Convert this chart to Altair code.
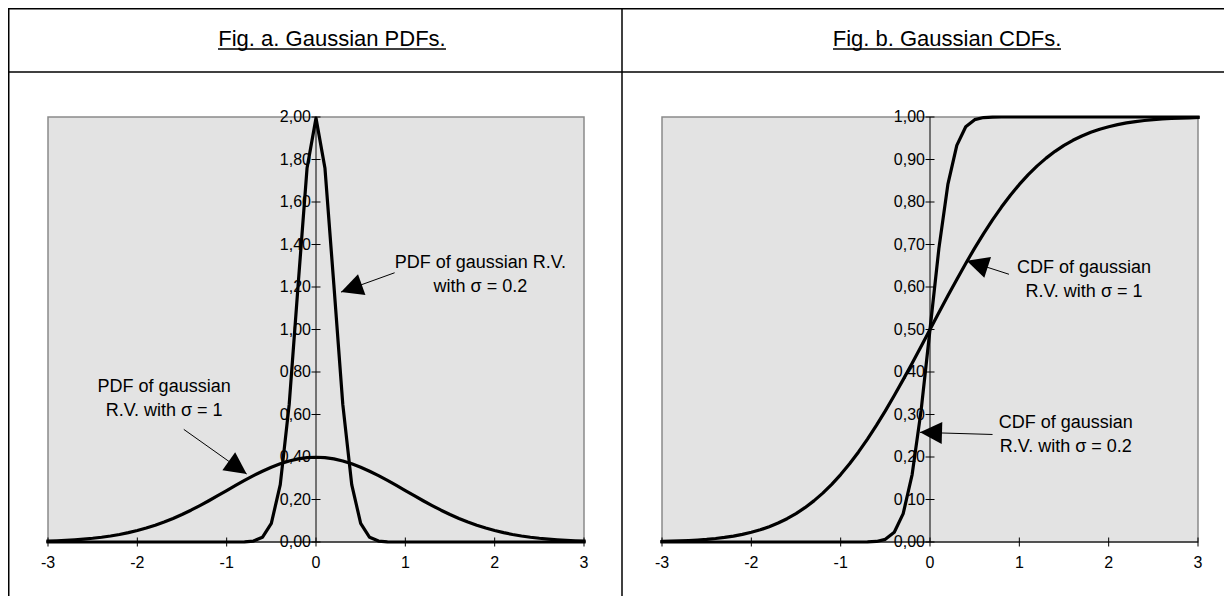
import altair as alt
import pandas as pd

FONT = "Liberation Sans"

# ---------------- data ----------------
X = [-3.0, -2.9, -2.8, -2.7, -2.6, -2.5, -2.4, -2.3, -2.2, -2.1,
     -2.0, -1.9, -1.8, -1.7, -1.6, -1.5, -1.4, -1.3, -1.2, -1.1,
     -1.0, -0.9, -0.8, -0.7, -0.6, -0.5, -0.4, -0.3, -0.2, -0.1,
     0.0, 0.1, 0.2, 0.3, 0.4, 0.5, 0.6, 0.7, 0.8, 0.9,
     1.0, 1.1, 1.2, 1.3, 1.4, 1.5, 1.6, 1.7, 1.8, 1.9,
     2.0, 2.1, 2.2, 2.3, 2.4, 2.5, 2.6, 2.7, 2.8, 2.9, 3.0]

PDF_SIGMA_1 = [0.0044, 0.0060, 0.0079, 0.0104, 0.0136, 0.0175, 0.0224, 0.0283, 0.0355, 0.0440,
               0.0540, 0.0656, 0.0790, 0.0940, 0.1109, 0.1295, 0.1497, 0.1714, 0.1942, 0.2179,
               0.2420, 0.2661, 0.2897, 0.3123, 0.3332, 0.3521, 0.3683, 0.3814, 0.3910, 0.3970,
               0.3989, 0.3970, 0.3910, 0.3814, 0.3683, 0.3521, 0.3332, 0.3123, 0.2897, 0.2661,
               0.2420, 0.2179, 0.1942, 0.1714, 0.1497, 0.1295, 0.1109, 0.0940, 0.0790, 0.0656,
               0.0540, 0.0440, 0.0355, 0.0283, 0.0224, 0.0175, 0.0136, 0.0104, 0.0079, 0.0060, 0.0044]

PDF_SIGMA_02 = [0.0, 0.0, 0.0, 0.0, 0.0, 0.0, 0.0, 0.0, 0.0, 0.0,
                0.0, 0.0, 0.0, 0.0, 0.0, 0.0, 0.0, 0.0, 0.0, 0.0,
                0.0, 0.0001, 0.0007, 0.0044, 0.0222, 0.0876, 0.2700, 0.6476, 1.2098, 1.7603,
                1.9947, 1.7603, 1.2098, 0.6476, 0.2700, 0.0876, 0.0222, 0.0044, 0.0007, 0.0001,
                0.0, 0.0, 0.0, 0.0, 0.0, 0.0, 0.0, 0.0, 0.0, 0.0,
                0.0, 0.0, 0.0, 0.0, 0.0, 0.0, 0.0, 0.0, 0.0, 0.0, 0.0]

CDF_SIGMA_1 = [0.0013, 0.0019, 0.0026, 0.0035, 0.0047, 0.0062, 0.0082, 0.0107, 0.0139, 0.0179,
               0.0228, 0.0287, 0.0359, 0.0446, 0.0548, 0.0668, 0.0808, 0.0968, 0.1151, 0.1357,
               0.1587, 0.1841, 0.2119, 0.2420, 0.2743, 0.3085, 0.3446, 0.3821, 0.4207, 0.4602,
               0.5000, 0.5398, 0.5793, 0.6179, 0.6554, 0.6915, 0.7257, 0.7580, 0.7881, 0.8159,
               0.8413, 0.8643, 0.8849, 0.9032, 0.9192, 0.9332, 0.9452, 0.9554, 0.9641, 0.9713,
               0.9772, 0.9821, 0.9861, 0.9893, 0.9918, 0.9938, 0.9953, 0.9965, 0.9974, 0.9981, 0.9987]

CDF_SIGMA_02 = [0.0, 0.0, 0.0, 0.0, 0.0, 0.0, 0.0, 0.0, 0.0, 0.0,
                0.0, 0.0, 0.0, 0.0, 0.0, 0.0, 0.0, 0.0, 0.0, 0.0,
                0.0, 0.0, 0.0, 0.0002, 0.0013, 0.0062, 0.0228, 0.0668, 0.1587, 0.3085,
                0.5000, 0.6915, 0.8413, 0.9332, 0.9772, 0.9938, 0.9987, 0.9998, 1.0, 1.0,
                1.0, 1.0, 1.0, 1.0, 1.0, 1.0, 1.0, 1.0, 1.0, 1.0,
                1.0, 1.0, 1.0, 1.0, 1.0, 1.0, 1.0, 1.0, 1.0, 1.0, 1.0]

X_TICKS = [-3, -2, -1, 0, 1, 2, 3]
X_TICK_LABELS = ["-3", "-2", "-1", "0", "1", "2", "3"]

PDF_Y_TICKS = [0.0, 0.2, 0.4, 0.6, 0.8, 1.0, 1.2, 1.4, 1.6, 1.8, 2.0]
PDF_Y_LABELS = ["0,00", "0,20", "0,40", "0,60", "0,80", "1,00", "1,20", "1,40", "1,60", "1,80", "2,00"]

CDF_Y_TICKS = [0.0, 0.1, 0.2, 0.3, 0.4, 0.5, 0.6, 0.7, 0.8, 0.9, 1.0]
CDF_Y_LABELS = ["0,00", "0,10", "0,20", "0,30", "0,40", "0,50", "0,60", "0,70", "0,80", "0,90", "1,00"]

# annotations (data coordinates)
PDF_NOTE_TEXT = ["PDF of gaussian R.V.", "with σ = 0.2", "PDF of gaussian", "R.V. with σ = 1"]
PDF_NOTE_X = [1.84, 1.84, -1.70, -1.70]
PDF_NOTE_Y = [1.314, 1.201, 0.731, 0.618]
PDF_ARROW_FROM_X = [0.88, -1.48]
PDF_ARROW_FROM_Y = [1.267, 0.530]
PDF_ARROW_TO_X = [0.28, -0.776]
PDF_ARROW_TO_Y = [1.176, 0.32]
PDF_ARROW_ANGLE = [250.3, 125.5]

CDF_NOTE_TEXT = ["CDF of gaussian", "R.V. with σ = 1", "CDF of gaussian", "R.V. with σ = 0.2"]
CDF_NOTE_X = [1.724, 1.724, 1.52, 1.52]
CDF_NOTE_Y = [0.644, 0.5875, 0.279, 0.224]
CDF_ARROW_FROM_X = [0.884, 0.70]
CDF_ARROW_FROM_Y = [0.630, 0.253]
CDF_ARROW_TO_X = [0.411, -0.112]
CDF_ARROW_TO_Y = [0.662, 0.258]
CDF_ARROW_ANGLE = [287.8, 271.6]

HEAD = "M0,0L1,2L-1,2Z"


def panel(y1, y2, ymax, yticks, ylabels, xrange, yrange,
          note_text, note_x, note_y, fx, fy, tx, ty, angles):
    xs = alt.Scale(domain=[-3, 3], range=xrange, nice=False, zero=False)
    ys = alt.Scale(domain=[0, ymax], range=yrange, nice=False, zero=False)

    def X_(f):
        return alt.X(f, type="quantitative", scale=xs, axis=None)

    def Y_(f):
        return alt.Y(f, type="quantitative", scale=ys, axis=None)

    bg_df = pd.DataFrame({"x0": [X_TICKS[0]], "x1": [X_TICKS[-1]], "y0": [0.0], "y1": [ymax]})
    bg = alt.Chart(bg_df).mark_rect(fill="#e3e3e3", stroke="#8a8a8a", strokeWidth=1.5).encode(
        x=X_("x0"), x2="x1", y=Y_("y0"), y2="y1")
    xaxis = alt.Chart(bg_df).mark_rule(color="black", strokeWidth=1).encode(
        x=X_("x0"), x2="x1", y=Y_("y0"))
    yaxis_df = pd.DataFrame({"x": [0.0], "y0": [0.0], "y1": [ymax]})
    yaxis = alt.Chart(yaxis_df).mark_rule(color="black", strokeWidth=1).encode(
        x=X_("x"), y=Y_("y0"), y2="y1")

    yt_df = pd.DataFrame({"x": [0.0] * len(yticks), "y": yticks, "lab": ylabels})
    ytick = alt.Chart(yt_df).mark_tick(orient="horizontal", size=9, thickness=1,
                                       color="black", opacity=1).encode(x=X_("x"), y=Y_("y"))
    ylab = alt.Chart(yt_df).mark_text(align="right", baseline="middle", dx=-5, fontSize=16,
                                      font=FONT, color="black").encode(
        x=X_("x"), y=Y_("y"), text="lab:N")

    xt_df = pd.DataFrame({"x": X_TICKS, "y": [0.0] * len(X_TICKS), "lab": X_TICK_LABELS})
    xtick = alt.Chart(xt_df).mark_tick(orient="vertical", size=9, thickness=1,
                                       color="black", opacity=1).encode(x=X_("x"), y=Y_("y"))
    xlab = alt.Chart(xt_df).mark_text(align="center", baseline="middle", dy=21, fontSize=16,
                                      font=FONT, color="black").encode(
        x=X_("x"), y=Y_("y"), text="lab:N")

    curves_df = pd.concat([
        pd.DataFrame({"x": X, "y": y1, "s": "sigma1"}),
        pd.DataFrame({"x": X, "y": y2, "s": "sigma02"}),
    ])
    curves = alt.Chart(curves_df).mark_line(color="black", strokeWidth=3.2,
                                            strokeJoin="round", strokeCap="square").encode(
        x=X_("x"), y=Y_("y"), detail="s:N", order="x:Q")

    note_df = pd.DataFrame({"x": note_x, "y": note_y, "t": note_text})
    notes = alt.Chart(note_df).mark_text(align="center", baseline="middle", fontSize=18,
                                         font=FONT, color="black").encode(
        x=X_("x"), y=Y_("y"), text="t:N")

    arr_df = pd.DataFrame({"fx": fx, "fy": fy, "tx": tx, "ty": ty, "a": angles})
    shafts = alt.Chart(arr_df).mark_rule(color="black", strokeWidth=1).encode(
        x=X_("fx"), y=Y_("fy"), x2="tx", y2="ty")
    heads = alt.Chart(arr_df).mark_point(shape=HEAD, filled=True, size=484, color="black",
                                         opacity=1).encode(
        x=X_("tx"), y=Y_("ty"), angle=alt.Angle("a:Q", scale=None))

    return alt.layer(bg, xaxis, yaxis, ytick, xtick, ylab, xlab, curves, notes, shafts, heads)


left = panel(PDF_SIGMA_1, PDF_SIGMA_02, 2.0, PDF_Y_TICKS, PDF_Y_LABELS,
             [40, 576], [534, 109],
             PDF_NOTE_TEXT, PDF_NOTE_X, PDF_NOTE_Y,
             PDF_ARROW_FROM_X, PDF_ARROW_FROM_Y, PDF_ARROW_TO_X, PDF_ARROW_TO_Y, PDF_ARROW_ANGLE)
right = panel(CDF_SIGMA_1, CDF_SIGMA_02, 1.0, CDF_Y_TICKS, CDF_Y_LABELS,
              [654, 1190], [534, 109],
              CDF_NOTE_TEXT, CDF_NOTE_X, CDF_NOTE_Y,
              CDF_ARROW_FROM_X, CDF_ARROW_FROM_Y, CDF_ARROW_TO_X, CDF_ARROW_TO_Y, CDF_ARROW_ANGLE)

# ---------------- table frame and titles (decoration) ----------------
W, H = 1216, 588
base = alt.Chart()
deco = [
    base.mark_rule(color="black", strokeWidth=1.5).encode(
        x=alt.value(0), x2=alt.value(W), y=alt.value(0.75)),
    base.mark_rule(color="black", strokeWidth=1.5).encode(
        x=alt.value(0), x2=alt.value(W), y=alt.value(64)),
    base.mark_rule(color="black", strokeWidth=1.5).encode(
        x=alt.value(0.75), y=alt.value(0), y2=alt.value(H)),
    base.mark_rule(color="black", strokeWidth=1.5).encode(
        x=alt.value(614), y=alt.value(0), y2=alt.value(H)),
    base.mark_text(fontSize=22, font=FONT, align="center", baseline="alphabetic",
                   color="black").encode(
        x=alt.value(324), y=alt.value(38), text=alt.value("Fig. a. Gaussian PDFs.")),
    base.mark_rule(color="black", strokeWidth=1.5).encode(
        x=alt.value(324 - 114), x2=alt.value(324 + 114), y=alt.value(41)),
    base.mark_text(fontSize=22, font=FONT, align="center", baseline="alphabetic",
                   color="black").encode(
        x=alt.value(939), y=alt.value(38), text=alt.value("Fig. b. Gaussian CDFs.")),
    base.mark_rule(color="black", strokeWidth=1.5).encode(
        x=alt.value(939 - 114), x2=alt.value(939 + 114), y=alt.value(41)),
]

chart = alt.layer(left, right, *deco, data=pd.DataFrame({"d": [0]})).resolve_scale(
    x="independent", y="independent"
).properties(
    width=W, height=H, padding=0,
    autosize=alt.AutoSizeParams(type="none"),
    background="white",
).configure_view(stroke=None)

chart.save("out.html", embed_options={"renderer": "svg", "actions": False})
